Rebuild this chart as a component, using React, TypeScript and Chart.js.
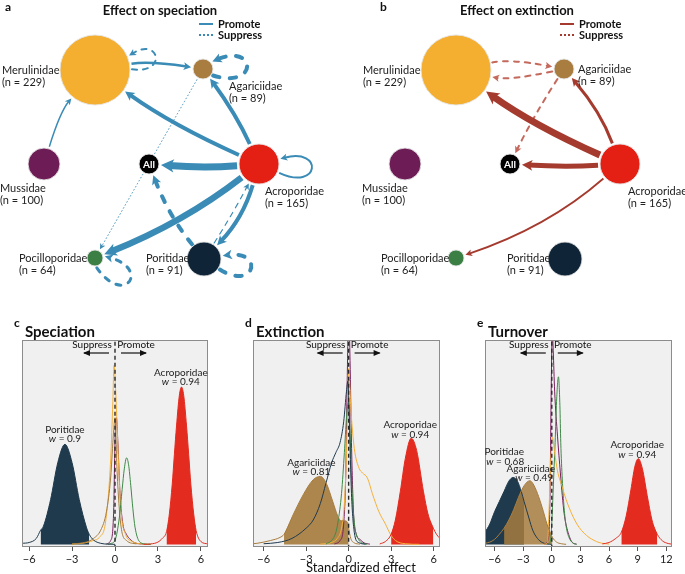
import React, { useEffect, useRef } from 'react';
import { Chart, registerables } from 'chart.js';

Chart.register(...registerables);

const FONT = 'Lato, "Open Sans", sans-serif';

// ---------------- Network data (panels a, b) ----------------
const families = ['Merulinidae', 'Agariciidae', 'Mussidae', 'All', 'Acroporidae', 'Pocilloporidae', 'Poritidae'];
const speciesCount = [229, 89, 100, 0, 165, 64, 91];
const nodeX = [1.9, 4.06, 0.88, 2.98, 5.18, 1.9, 4.08];
const nodeY = [1.4, 1.38, 3.28, 3.28, 3.28, 5.16, 5.18];
const nodeSize = [35, 10, 16, 10, 20, 8, 17];

// speciation network edges
const speFrom = [2, 0, 0, 1, 4, 4, 4, 4, 4, 4, 6, 1, 6, 6, 5];
const speTo = [0, 1, 0, 1, 0, 1, 4, 3, 5, 6, 4, 5, 3, 6, 5];
const speStrength = [1.5, 2.5, 2, 4, 4, 4, 2, 7, 6.5, 4, 1.2, 1, 4, 4, 3];
const speEffect = ['promote', 'promote', 'suppress', 'suppress', 'promote', 'promote', 'promote', 'promote', 'promote', 'promote', 'suppress', 'suppress', 'suppress', 'suppress', 'suppress'];

// extinction network edges
const extFrom = [0, 1, 1, 4, 4, 4, 4];
const extTo = [1, 0, 3, 0, 1, 3, 5];
const extStrength = [2, 2, 2, 7, 3, 5, 1.8];
const extEffect = ['suppress', 'suppress', 'suppress', 'promote', 'promote', 'promote', 'promote'];

// ---------------- Density data (panels c, d, e) ----------------
// c: speciation
const spePorX = [-6.5, -6, -5.5, -5.2, -5, -4.5, -4, -3.5, -3, -2.5, -2, -1.8, -1.5, -1, -0.5, 0];
const spePorY = [0.006, 0.01, 0.03, 0.07, 0.09, 0.22, 0.4, 0.49, 0.4, 0.22, 0.085, 0.05, 0.022, 0.006, 0.002, 0.001];
const speAcrX = [2, 2.5, 3, 3.3, 3.6, 3.8, 4, 4.15, 4.3, 4.5, 4.65, 4.8, 5, 5.15, 5.3, 5.5, 5.67, 6, 6.5];
const speAcrY = [0.001, 0.003, 0.012, 0.03, 0.063, 0.15, 0.295, 0.44, 0.58, 0.73, 0.77, 0.73, 0.58, 0.44, 0.295, 0.15, 0.068, 0.015, 0.003];
const speMerX = [-3, -2.3, -1.5, -1.1, -0.65, -0.3, -0.15, -0.07, 0.05, 0.16, 0.4, 0.74, 1.2, 1.7, 2.5];
const speMerY = [0.002, 0.006, 0.02, 0.035, 0.115, 0.42, 0.7, 0.875, 0.75, 0.55, 0.18, 0.05, 0.015, 0.004, 0.001];
const speAgaX = [-3, -2, -1.5, -1, -0.6, -0.3, -0.1, 0, 0.15, 0.4, 0.8, 1.5];
const speAgaY = [0.003, 0.012, 0.03, 0.07, 0.16, 0.33, 0.55, 0.62, 0.35, 0.1, 0.02, 0.003];
const speMusX = [-0.6, -0.3, -0.1, 0, 0.1, 0.2, 0.35, 0.55, 0.8, 1.0, 1.4, 2];
const speMusY = [0.003, 0.02, 0.15, 0.5, 0.62, 0.5, 0.25, 0.1, 0.05, 0.03, 0.008, 0.002];
const spePocX = [-0.5, -0.3, 0, 0.3, 0.5, 0.65, 0.81, 0.95, 1.1, 1.25, 1.4, 1.7, 2.1, 2.5];
const spePocY = [0.002, 0.005, 0.021, 0.13, 0.27, 0.37, 0.424, 0.39, 0.29, 0.175, 0.085, 0.015, 0.003, 0.001];

// d: extinction
const extAgaX = [-6.75, -6.47, -5.5, -4.84, -4.56, -3.9, -3.2, -2.5, -1.98, -1.58, -1.12, -0.77, -0.53, -0.3, -0.07, 0, 0.15, 0.4, 0.8];
const extAgaY = [0.004, 0.006, 0.02, 0.035, 0.05, 0.148, 0.244, 0.317, 0.333, 0.3, 0.21, 0.14, 0.116, 0.116, 0.108, 0.08, 0.03, 0.008, 0.002];
const extPorX = [-6, -5, -4, -3, -2.5, -2, -1.6, -1.2, -0.9, -0.6, -0.35, -0.15, -0.05, 0.05, 0.2, 0.4, 0.7, 1.2];
const extPorY = [0.004, 0.01, 0.03, 0.08, 0.12, 0.2, 0.3, 0.4, 0.45, 0.5, 0.6, 0.75, 0.8, 0.6, 0.25, 0.06, 0.01, 0.002];
const extPocX = [-1.6, -1.2, -0.9, -0.75, -0.5, -0.3, -0.15, 0, 0.1, 0.25, 0.45, 0.7, 1.0, 1.3];
const extPocY = [0.003, 0.02, 0.06, 0.11, 0.25, 0.45, 0.62, 0.7, 0.55, 0.25, 0.08, 0.025, 0.006, 0.002];
const extMusX = [-1, -0.6, -0.35, -0.2, -0.1, 0, 0.1, 0.2, 0.35, 0.55, 0.8, 1.1, 1.5];
const extMusY = [0.003, 0.02, 0.1, 0.35, 0.8, 1.15, 0.9, 0.5, 0.15, 0.05, 0.025, 0.008, 0.002];
const extMerX = [-2, -1.2, -0.8, -0.5, -0.3, -0.15, -0.05, 0, 0.16, 0.4, 0.74, 0.98, 1.33, 1.67, 2.14, 2.6, 2.95, 3.3, 4, 5];
const extMerY = [0.002, 0.01, 0.03, 0.08, 0.2, 0.45, 0.75, 0.86, 0.66, 0.47, 0.373, 0.35, 0.325, 0.25, 0.16, 0.1, 0.05, 0.02, 0.004, 0.001];
const extAcrX = [2.2, 2.6, 3.0, 3.3, 3.65, 4.0, 4.42, 4.8, 5.28, 5.6, 5.98, 6.2, 6.45];
const extAcrY = [0.003, 0.015, 0.05, 0.12, 0.26, 0.42, 0.52, 0.46, 0.26, 0.15, 0.08, 0.05, 0.03];

// e: turnover
const turPorX = [-7, -6.5, -6, -5.5, -5, -4.5, -4.05, -3.6, -3.2, -2.9, -2.4, -2, -1.5, -1, -0.5, 0];
const turPorY = [0.06, 0.1, 0.16, 0.21, 0.26, 0.31, 0.328, 0.31, 0.26, 0.21, 0.13, 0.07, 0.03, 0.01, 0.003, 0.001];
const turAgaX = [-7, -6.5, -6, -5.5, -5, -4.5, -4, -3.5, -3, -2.6, -2.3, -2, -1.5, -1, -0.5, 0.07, 0.5, 1, 1.5];
const turAgaY = [0.006, 0.012, 0.025, 0.05, 0.08, 0.12, 0.17, 0.23, 0.28, 0.305, 0.312, 0.3, 0.25, 0.18, 0.1, 0.035, 0.012, 0.004, 0.001];
const turMusX = [-0.8, -0.4, -0.2, -0.05, 0.05, 0.15, 0.3, 0.6, 0.9, 1.1, 1.3, 1.64, 2.16, 2.6];
const turMusY = [0.002, 0.02, 0.2, 0.8, 1.05, 0.95, 0.75, 0.53, 0.35, 0.24, 0.15, 0.07, 0.01, 0.002];
const turPocX = [-0.3, -0.1, 0.07, 0.2, 0.35, 0.5, 0.7, 0.85, 0.94, 1.1, 1.29, 1.5, 1.8, 2.2, 2.6];
const turPocY = [0.002, 0.03, 0.18, 0.33, 0.5, 0.7, 0.82, 0.68, 0.5, 0.32, 0.18, 0.09, 0.035, 0.008, 0.001];
const turMerX = [-0.8, -0.45, -0.28, -0.1, 0.07, 0.3, 0.6, 1.1, 1.5, 2.0, 2.4, 2.86, 3.4, 3.9, 4.95, 6];
const turMerY = [0.002, 0.01, 0.18, 0.42, 0.525, 0.45, 0.36, 0.28, 0.22, 0.16, 0.12, 0.084, 0.055, 0.035, 0.01, 0.002];
const turAcrX = [5.3, 6, 6.7, 7.29, 7.8, 8.3, 8.7, 9.07, 9.5, 10, 10.5, 11.06, 11.6, 12.2, 12.6];
const turAcrY = [0.003, 0.01, 0.03, 0.06, 0.14, 0.27, 0.38, 0.42, 0.37, 0.24, 0.12, 0.05, 0.018, 0.005, 0.002];

// credible-interval bounds (filled parts)
const spePorInterval = [-5.2, -1.8];
const speAcrInterval = [3.6, 5.67];
const extAgaInterval = [-4.56, 0];
const extAcrInterval = [3.0, 5.98];
const turPorInterval = [-7, -2.9];
const turAgaInterval = [-5, 0.07];
const turAcrInterval = [7.29, 11.06];

// model weights
const speWeights = { Poritidae: '0.9', Acroporidae: '0.94' };
const extWeights = { Agariciidae: '0.81', Acroporidae: '0.94' };
const turWeights = { Poritidae: '0.68', Agariciidae: '0.49', Acroporidae: '0.94' };

const tickValuesCD = [-6, -3, 0, 3, 6];
const tickLabelsCD = ['\u22126', '\u22123', '0', '3', '6'];
const tickValuesE = [-6, -3, 0, 3, 6, 9, 12];
const tickLabelsE = ['\u22126', '\u22123', '0', '3', '6', '9', '12'];

// ---------------- Styles ----------------
const nodeColors = ['#f4ae30', '#a87d3f', '#6e1c55', '#000000', '#e41f14', '#3b7f45', '#0f2537'];
const C = {
  navy: '#1f3a4d', red: '#e32b20', brown: '#a77d3f', orange: '#f6b13a', purple: '#7b1f5f', green: '#3f8a47',
};
const BLUE = '#3a8bb5';
const DARKRED = '#a53a2e';
const LIGHTRED = '#c4695c';

// layout (label offsets, bends, loops)
const labelOffA = [[-93, 0], [26, 17], [-44, 24], [0, 0], [6, 27], [-76, 0], [-58, -1]];
const labelOffB = [[-93, 0], [14, 0], [-43, 24], [0, 0], [8, 27], [-75, 0], [-58, -1]];
const speBend = [-0.1, -0.08, 0, 0, -0.05, 0.05, 0, -0.04, -0.07, -0.12, 0.02, 0, -0.08, 0, 0];
const speLoop = [null, null, { a: -12, s: 36 }, { a: -3, s: 48 }, null, null, { a: 5, s: 45 }, null, null, null, null, null, null, { a: 12, s: 42 }, { a: 35, s: 48 }];
const extBend = [-0.1, -0.1, 0.03, -0.05, 0.09, -0.03, -0.1];

type Pt = { x: number; y: number };
const unit = (a: Pt, b: Pt): Pt => {
  const dx = b.x - a.x, dy = b.y - a.y;
  const l = Math.hypot(dx, dy) || 1;
  return { x: dx / l, y: dy / l };
};

const arrowLen = (w: number) => 4.5 + 1.2 * w;

function arrowHead(ctx: CanvasRenderingContext2D, tip: Pt, dir: Pt, w: number, color: string) {
  const L = arrowLen(w), H = 2.3 + 0.62 * w;
  const bx = tip.x - dir.x * L, by = tip.y - dir.y * L;
  ctx.setLineDash([]);
  ctx.beginPath();
  ctx.moveTo(tip.x, tip.y);
  ctx.lineTo(bx - dir.y * H, by + dir.x * H);
  ctx.lineTo(tip.x - dir.x * L * 0.75, tip.y - dir.y * L * 0.75);
  ctx.lineTo(bx + dir.y * H, by - dir.x * H);
  ctx.closePath();
  ctx.fillStyle = color;
  ctx.fill();
}

function setStroke(ctx: CanvasRenderingContext2D, effect: string, w: number, color: string) {
  ctx.strokeStyle = color;
  ctx.lineWidth = w;
  if (effect === 'promote') {
    ctx.setLineDash([]);
    ctx.lineCap = 'butt';
  } else if (w <= 1) {
    ctx.setLineDash([1.5, 2]);
    ctx.lineCap = 'butt';
  } else {
    ctx.setLineDash([Math.max(5, 1.6 * w), Math.max(4, 1.6 * w) + w]);
    ctx.lineCap = 'round';
  }
}

function drawEdge(ctx: CanvasRenderingContext2D, P: Pt[], R: number[], from: number, to: number, w: number, effect: string, bend: number, color: string) {
  const a = P[from], b = P[to];
  const d = unit(a, b);
  const len = Math.hypot(b.x - a.x, b.y - a.y);
  const n = { x: -d.y, y: d.x };
  const c = { x: (a.x + b.x) / 2 + n.x * bend * len, y: (a.y + b.y) / 2 + n.y * bend * len };
  const u0 = unit(a, c), u1 = unit(c, b);
  const s = { x: a.x + u0.x * (R[from] + 2), y: a.y + u0.y * (R[from] + 2) };
  const tip = { x: b.x - u1.x * (R[to] + 2), y: b.y - u1.y * (R[to] + 2) };
  const L = arrowLen(w);
  const e = { x: tip.x - u1.x * L * 0.6, y: tip.y - u1.y * L * 0.6 };
  ctx.save();
  setStroke(ctx, effect, w, color);
  ctx.beginPath();
  ctx.moveTo(s.x, s.y);
  ctx.quadraticCurveTo(c.x, c.y, e.x, e.y);
  ctx.stroke();
  arrowHead(ctx, tip, u1, w, color);
  ctx.restore();
}

function drawLoop(ctx: CanvasRenderingContext2D, c: Pt, r: number, angDeg: number, size: number, w: number, effect: string, color: string) {
  const th = (angDeg * Math.PI) / 180;
  const rr = r + 2;
  const half = Math.asin(Math.min(0.95, 7 / rr));
  const U = (t: number) => ({ x: Math.cos(t), y: Math.sin(t) });
  const p0 = { x: c.x + U(th + half).x * rr, y: c.y + U(th + half).y * rr };
  const p3 = { x: c.x + U(th - half).x * rr, y: c.y + U(th - half).y * rr };
  const sp = 0.35;
  const p1 = { x: p0.x + U(th + sp).x * size, y: p0.y + U(th + sp).y * size };
  const p2 = { x: p3.x + U(th - sp).x * size, y: p3.y + U(th - sp).y * size };
  const dir = unit(p2, p3);
  const L = arrowLen(w);
  const e = { x: p3.x - dir.x * L * 0.6, y: p3.y - dir.y * L * 0.6 };
  ctx.save();
  setStroke(ctx, effect, w, color);
  ctx.beginPath();
  ctx.moveTo(p0.x, p0.y);
  ctx.bezierCurveTo(p1.x, p1.y, p2.x, p2.y, e.x, e.y);
  ctx.stroke();
  arrowHead(ctx, p3, dir, w, color);
  ctx.restore();
}

type NetSpec = {
  key: string; letter: string; title: string; width: number;
  from: number[]; to: number[]; strength: number[]; effect: string[]; bend: number[]; loops: any[];
  colorFor: (i: number) => string; legendColor: string; labelOff: number[][]; letterX: number;
};

function networkConfig(spec: NetSpec): any {
  const plugin = {
    id: 'net' + spec.key,
    beforeDatasetsDraw(chart: any) {
      const ctx: CanvasRenderingContext2D = chart.ctx;
      const xs = chart.scales.x, ys = chart.scales.y;
      const P = nodeX.map((v, i) => ({ x: xs.getPixelForValue(v), y: ys.getPixelForValue(nodeY[i]) }));
      spec.from.forEach((f, i) => {
        const t = spec.to[i];
        const col = spec.colorFor(i);
        if (f === t) {
          const lp = spec.loops[i];
          drawLoop(ctx, P[f], nodeSize[f], lp.a, lp.s, spec.strength[i], spec.effect[i], col);
        } else {
          drawEdge(ctx, P, nodeSize, f, t, spec.strength[i], spec.effect[i], spec.bend[i], col);
        }
      });
    },
    afterDatasetsDraw(chart: any) {
      const ctx: CanvasRenderingContext2D = chart.ctx;
      const xs = chart.scales.x, ys = chart.scales.y;
      const P = nodeX.map((v, i) => ({ x: xs.getPixelForValue(v), y: ys.getPixelForValue(nodeY[i]) }));
      ctx.save();
      ctx.textBaseline = 'middle';
      ctx.textAlign = 'left';
      ctx.fillStyle = '#222';
      ctx.font = `11px ${FONT}`;
      families.forEach((f, i) => {
        if (f === 'All') return;
        const o = spec.labelOff[i];
        const x = P[i].x + o[0], y = P[i].y + o[1];
        ctx.fillText(f, x, y);
        ctx.fillText(`(n = ${speciesCount[i]})`, x, y + 12);
      });
      // All
      ctx.fillStyle = '#fff';
      ctx.font = `bold 10px ${FONT}`;
      ctx.textAlign = 'center';
      ctx.fillText('All', P[3].x, P[3].y + 0.5);
      // title
      ctx.fillStyle = '#111';
      ctx.font = `bold 13px ${FONT}`;
      ctx.fillText(spec.title, 160 - (spec.key === 'b' ? 4 : 0), 11);
      ctx.textAlign = 'left';
      ctx.font = `bold 12px ${FONT}`;
      ctx.fillText(spec.letter, spec.letterX, 7);
      // legend
      ctx.font = `bold 11px ${FONT}`;
      ctx.fillText('Promote', 218, 24);
      ctx.fillText('Suppress', 218, 35);
      ctx.strokeStyle = spec.legendColor;
      ctx.lineWidth = 2;
      ctx.beginPath(); ctx.moveTo(199, 24); ctx.lineTo(213, 24); ctx.stroke();
      ctx.setLineDash([2, 2]);
      ctx.beginPath(); ctx.moveTo(199, 35); ctx.lineTo(213, 35); ctx.stroke();
      ctx.restore();
    },
  };
  return {
    type: 'scatter',
    data: {
      datasets: [{
        data: nodeX.map((x, i) => ({ x, y: nodeY[i] })),
        pointRadius: nodeSize,
        pointBackgroundColor: nodeColors,
        pointBorderColor: 'rgba(230,230,230,0.9)',
        pointBorderWidth: 1,
        pointHoverRadius: nodeSize,
        clip: false,
      }],
    },
    options: {
      animation: false, responsive: false, events: [],
      layout: { padding: 0, autoPadding: false },
      plugins: { legend: { display: false }, tooltip: { enabled: false } },
      scales: {
        x: { type: 'linear', display: false, min: 0, max: spec.width / 50 },
        y: { type: 'linear', display: false, min: 0, max: 290 / 50, reverse: true },
      },
    },
    plugins: [plugin],
  };
}

type Curve = { x: number[]; y: number[]; color: string; fillColor?: string; interval?: number[] };
type Label = { text: string; w?: string; x: number; y: number; wx?: number; wy: number };
type DensSpec = {
  key: string; letter: string; title: string; min: number; max: number; ticks: number[]; tickLabels: string[];
  padL: number; padR: number; curves: Curve[]; labels: Label[]; axisTitle?: string;
};

function densityConfig(spec: DensSpec): any {
  const datasets: any[] = [];
  spec.curves.forEach((cv, i) => {
    const pts = cv.x.map((x, j) => ({ x, y: cv.y[j] }));
    if (cv.interval) {
      const [lo, hi] = cv.interval;
      datasets.push({
        data: pts.filter((p) => p.x >= lo - 1e-9 && p.x <= hi + 1e-9),
        showLine: true, fill: 'origin', backgroundColor: cv.fillColor || cv.color,
        borderWidth: 0, borderColor: 'rgba(0,0,0,0)', pointRadius: 0,
        cubicInterpolationMode: 'monotone', order: 100 - i,
      });
    }
    datasets.push({
      data: pts, showLine: true, fill: false, borderColor: cv.color, borderWidth: 1,
      pointRadius: 0, cubicInterpolationMode: 'monotone', order: 50 - i,
    });
  });
  datasets.push({
    data: [{ x: 0, y: -0.02 }, { x: 0, y: 1.05 }], showLine: true, fill: false,
    borderColor: '#2a2a2a', borderWidth: 1.4, borderDash: [4, 3], pointRadius: 0, order: 0,
  });

  const plugin = {
    id: 'dens' + spec.key,
    beforeDraw(chart: any) {
      const { ctx, chartArea: a } = chart;
      ctx.save();
      ctx.fillStyle = '#f0f0f0';
      ctx.fillRect(a.left, a.top, a.right - a.left, a.bottom - a.top);
      ctx.restore();
    },
    afterDraw(chart: any) {
      const ctx: CanvasRenderingContext2D = chart.ctx;
      const a = chart.chartArea;
      const xs = chart.scales.x, ys = chart.scales.y;
      ctx.save();
      ctx.strokeStyle = '#8c8c8c';
      ctx.lineWidth = 1;
      ctx.strokeRect(a.left + 0.5, a.top + 0.5, a.right - a.left - 1, a.bottom - a.top - 1);
      // letter + title
      ctx.fillStyle = '#111';
      ctx.textBaseline = 'alphabetic';
      ctx.textAlign = 'left';
      ctx.font = `bold 12px ${FONT}`;
      ctx.fillText(spec.letter, a.left - 8, 17);
      ctx.font = `bold 15px ${FONT}`;
      ctx.fillText(spec.title, a.left + 3, 27);
      // suppress / promote
      const z = xs.getPixelForValue(0);
      ctx.font = `10px ${FONT}`;
      ctx.textAlign = 'center';
      ctx.textBaseline = 'middle';
      ctx.fillStyle = '#111';
      ctx.fillText('Suppress', z - 23, a.top + 5);
      ctx.fillText('Promote', z + 21, a.top + 5);
      ctx.strokeStyle = '#111';
      ctx.lineWidth = 1.2;
      const arr = (x0: number, x1: number) => {
        const y = a.top + 13;
        ctx.beginPath(); ctx.moveTo(x0, y); ctx.lineTo(x1, y); ctx.stroke();
        const d = x1 > x0 ? 1 : -1;
        ctx.beginPath(); ctx.moveTo(x1 + d, y); ctx.lineTo(x1 - d * 6, y - 3); ctx.lineTo(x1 - d * 6, y + 3); ctx.closePath();
        ctx.fillStyle = '#111'; ctx.fill();
      };
      arr(z - 6, z - 31);
      arr(z + 6, z + 31);
      // family labels
      spec.labels.forEach((lb) => {
        const px = xs.getPixelForValue(lb.x);
        ctx.font = `10px ${FONT}`;
        ctx.fillStyle = '#222';
        ctx.textAlign = 'center';
        ctx.fillText(lb.text, px, ys.getPixelForValue(lb.y));
        if (lb.w) {
          const wx = xs.getPixelForValue(lb.wx !== undefined ? lb.wx : lb.x);
          const wy = ys.getPixelForValue(lb.wy);
          ctx.font = `italic 10px ${FONT}`;
          const w1 = ctx.measureText('w').width;
          ctx.font = `10px ${FONT}`;
          const rest = ` = ${lb.w}`;
          const w2 = ctx.measureText(rest).width;
          const x0 = wx - (w1 + w2) / 2;
          ctx.textAlign = 'left';
          ctx.font = `italic 10px ${FONT}`;
          ctx.fillText('w', x0, wy);
          ctx.font = `10px ${FONT}`;
          ctx.fillText(rest, x0 + w1, wy);
        }
      });
      if (spec.axisTitle) {
        ctx.font = `13px ${FONT}`;
        ctx.fillStyle = '#111';
        ctx.textAlign = 'center';
        ctx.fillText(spec.axisTitle, a.left + 108, 258);
      }
      ctx.restore();
    },
  };

  return {
    type: 'scatter',
    data: { datasets },
    options: {
      animation: false, responsive: false, events: [],
      layout: { padding: { left: spec.padL, right: spec.padR, top: 30, bottom: 0 }, autoPadding: false },
      plugins: { legend: { display: false }, tooltip: { enabled: false } },
      scales: {
        x: {
          type: 'linear', min: spec.min, max: spec.max,
          afterBuildTicks: (axis: any) => { axis.ticks = spec.ticks.map((v) => ({ value: v })); },
          afterFit: (axis: any) => { axis.height = 27; },
          ticks: {
            autoSkip: false, maxRotation: 0, padding: 2, color: '#222',
            font: { family: FONT, size: 11 },
            callback: (_v: any, idx: number) => spec.tickLabels[idx],
          },
          grid: { display: true, drawOnChartArea: false, drawTicks: true, tickLength: 4, color: '#555' },
          border: { display: false },
        },
        y: { type: 'linear', display: false, min: -0.012, max: 1 },
      },
    },
    plugins: [plugin],
  };
}

function ChartBox({ config, left, top, width, height }: any) {
  const ref = useRef<HTMLCanvasElement>(null);
  useEffect(() => {
    const chart = new Chart(ref.current as HTMLCanvasElement, config);
    return () => chart.destroy();
  }, []);
  return (
    <canvas ref={ref} width={width} height={height}
      style={{ position: 'absolute', left, top, width, height }} />
  );
}

const netA = networkConfig({
  key: 'a', letter: 'a', title: 'Effect on speciation', width: 340,
  from: speFrom, to: speTo, strength: speStrength, effect: speEffect, bend: speBend, loops: speLoop,
  colorFor: () => BLUE, legendColor: BLUE, labelOff: labelOffA, letterX: 5,
});
const netB = networkConfig({
  key: 'b', letter: 'b', title: 'Effect on extinction', width: 324,
  from: extFrom, to: extTo, strength: extStrength, effect: extEffect, bend: extBend, loops: [],
  colorFor: (i: number) => (extEffect[i] === 'promote' ? DARKRED : LIGHTRED), legendColor: DARKRED, labelOff: labelOffB, letterX: 19,
});

const densC = densityConfig({
  key: 'c', letter: 'c', title: 'Speciation', min: -6.5, max: 6.5, ticks: tickValuesCD, tickLabels: tickLabelsCD,
  padL: 22, padR: 20,
  curves: [
    { x: speMusX, y: speMusY, color: C.purple },
    { x: speMerX, y: speMerY, color: C.orange },
    { x: speAgaX, y: speAgaY, color: C.brown },
    { x: spePocX, y: spePocY, color: C.green },
    { x: speAcrX, y: speAcrY, color: C.red, interval: speAcrInterval },
    { x: spePorX, y: spePorY, color: C.navy, interval: spePorInterval },
  ],
  labels: [
    { text: 'Poritidae', w: speWeights.Poritidae, x: -3.5, y: 0.563, wy: 0.515 },
    { text: 'Acroporidae', w: speWeights.Acroporidae, x: 4.6, y: 0.842, wy: 0.794 },
  ],
});
const densD = densityConfig({
  key: 'd', letter: 'd', title: 'Extinction', min: -6.75, max: 6.45, ticks: tickValuesCD, tickLabels: tickLabelsCD,
  padL: 25, padR: 15,
  curves: [
    { x: extMusX, y: extMusY, color: C.purple },
    { x: extMerX, y: extMerY, color: C.orange },
    { x: extPocX, y: extPocY, color: C.green },
    { x: extPorX, y: extPorY, color: C.navy },
    { x: extAcrX, y: extAcrY, color: C.red, interval: extAcrInterval },
    { x: extAgaX, y: extAgaY, color: C.brown, fillColor: 'rgba(167,125,63,0.92)', interval: extAgaInterval },
  ],
  labels: [
    { text: 'Agariciidae', w: extWeights.Agariciidae, x: -2.63, y: 0.402, wy: 0.357 },
    { text: 'Acroporidae', w: extWeights.Acroporidae, x: 4.35, y: 0.585, wy: 0.537 },
  ],
  axisTitle: 'Standardized effect',
});
const densE = densityConfig({
  key: 'e', letter: 'e', title: 'Turnover', min: -7, max: 12.6, ticks: tickValuesE, tickLabels: tickLabelsE,
  padL: 30, padR: 13,
  curves: [
    { x: turPorX, y: turPorY, color: C.navy, interval: turPorInterval },
    { x: turMusX, y: turMusY, color: C.purple },
    { x: turPocX, y: turPocY, color: C.green },
    { x: turMerX, y: turMerY, color: C.orange },
    { x: turAcrX, y: turAcrY, color: C.red, interval: turAcrInterval },
    { x: turAgaX, y: turAgaY, color: C.brown, fillColor: 'rgba(167,125,63,0.85)', interval: turAgaInterval },
  ],
  labels: [
    { text: 'Poritidae', w: turWeights.Poritidae, x: -4.99, y: 0.453, wx: -4.88, wy: 0.405 },
    { text: 'Agariciidae', w: turWeights.Agariciidae, x: -2.2, y: 0.368, wx: -1.85, wy: 0.325 },
    { text: 'Acroporidae', w: turWeights.Acroporidae, x: 8.96, y: 0.489, wy: 0.44 },
  ],
});

export default function App() {
  return (
    <div style={{ position: 'absolute', left: 0, top: 0, width: 685, height: 574, background: '#fff', overflow: 'hidden' }}>
      <ChartBox config={netA} left={0} top={0} width={340} height={290} />
      <ChartBox config={netB} left={361} top={0} width={324} height={290} />
      <ChartBox config={densC} left={0} top={310} width={228} height={264} />
      <ChartBox config={densD} left={228} top={310} width={227} height={264} />
      <ChartBox config={densE} left={455} top={310} width={230} height={264} />
    </div>
  );
}
